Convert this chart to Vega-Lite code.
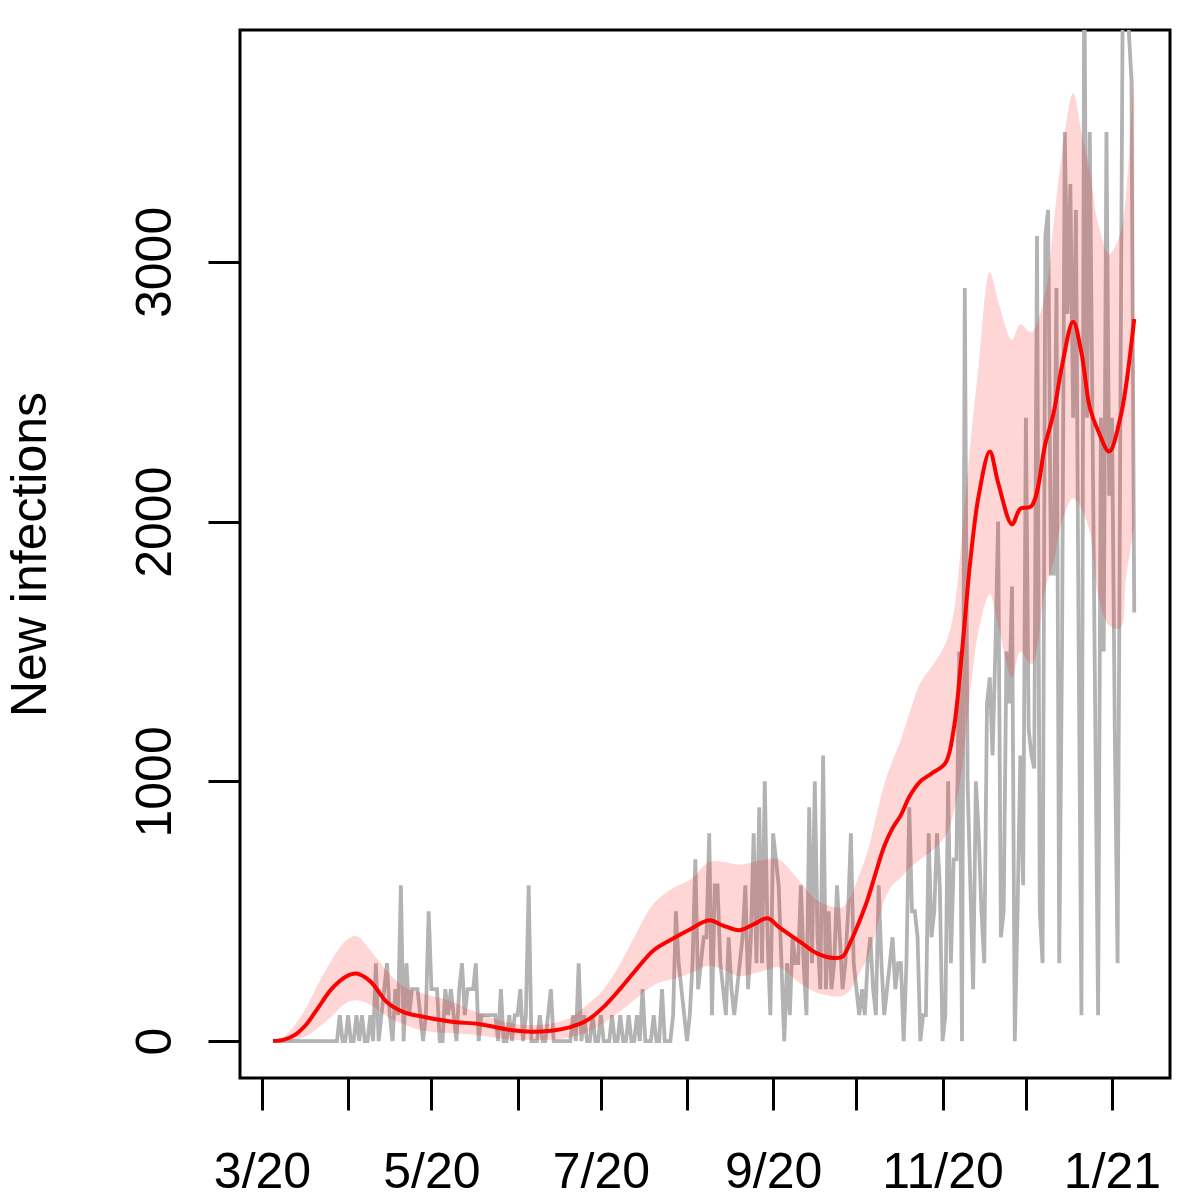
{
  "$schema": "https://vega.github.io/schema/vega-lite/v6.json",
  "width": 930,
  "height": 1048,
  "autosize": {"type": "none"},
  "padding": {"left": 240, "top": 30, "right": 30, "bottom": 122},
  "background": "white",
  "config": {
    "view": {"stroke": "black", "strokeWidth": 3},
    "font": "Liberation Sans"
  },
  "datasets": {
    "daily": [
      {"date":"2020-03-05","cases":0},{"date":"2020-03-06","cases":0},{"date":"2020-03-07","cases":0},{"date":"2020-03-08","cases":0},{"date":"2020-03-09","cases":0},{"date":"2020-03-10","cases":0},{"date":"2020-03-11","cases":0},{"date":"2020-03-12","cases":0},{"date":"2020-03-13","cases":0},{"date":"2020-03-14","cases":0},{"date":"2020-03-15","cases":0},{"date":"2020-03-16","cases":0},{"date":"2020-03-17","cases":0},{"date":"2020-03-18","cases":0},{"date":"2020-03-19","cases":0},{"date":"2020-03-20","cases":0},{"date":"2020-03-21","cases":0},{"date":"2020-03-22","cases":0},{"date":"2020-03-23","cases":0},{"date":"2020-03-24","cases":0},{"date":"2020-03-25","cases":0},{"date":"2020-03-26","cases":0},{"date":"2020-03-27","cases":0},{"date":"2020-03-28","cases":0},{"date":"2020-03-29","cases":100},{"date":"2020-03-30","cases":0},{"date":"2020-03-31","cases":0},
      {"date":"2020-04-01","cases":100},{"date":"2020-04-02","cases":0},{"date":"2020-04-03","cases":0},{"date":"2020-04-04","cases":100},{"date":"2020-04-05","cases":0},{"date":"2020-04-06","cases":100},{"date":"2020-04-07","cases":0},{"date":"2020-04-08","cases":0},{"date":"2020-04-09","cases":100},{"date":"2020-04-10","cases":0},{"date":"2020-04-11","cases":300},{"date":"2020-04-12","cases":0},{"date":"2020-04-13","cases":100},{"date":"2020-04-14","cases":200},{"date":"2020-04-15","cases":300},{"date":"2020-04-16","cases":100},{"date":"2020-04-17","cases":0},{"date":"2020-04-18","cases":200},{"date":"2020-04-19","cases":100},{"date":"2020-04-20","cases":600},{"date":"2020-04-21","cases":0},{"date":"2020-04-22","cases":300},{"date":"2020-04-23","cases":100},{"date":"2020-04-24","cases":200},{"date":"2020-04-25","cases":200},{"date":"2020-04-26","cases":200},{"date":"2020-04-27","cases":100},{"date":"2020-04-28","cases":0},{"date":"2020-04-29","cases":100},{"date":"2020-04-30","cases":500},
      {"date":"2020-05-01","cases":200},{"date":"2020-05-02","cases":200},{"date":"2020-05-03","cases":200},{"date":"2020-05-04","cases":0},{"date":"2020-05-05","cases":0},{"date":"2020-05-06","cases":200},{"date":"2020-05-07","cases":100},{"date":"2020-05-08","cases":200},{"date":"2020-05-09","cases":100},{"date":"2020-05-10","cases":0},{"date":"2020-05-11","cases":200},{"date":"2020-05-12","cases":300},{"date":"2020-05-13","cases":100},{"date":"2020-05-14","cases":200},{"date":"2020-05-15","cases":200},{"date":"2020-05-16","cases":200},{"date":"2020-05-17","cases":300},{"date":"2020-05-18","cases":0},{"date":"2020-05-19","cases":100},{"date":"2020-05-20","cases":100},{"date":"2020-05-21","cases":100},{"date":"2020-05-22","cases":100},{"date":"2020-05-23","cases":100},{"date":"2020-05-24","cases":100},{"date":"2020-05-25","cases":0},{"date":"2020-05-26","cases":200},{"date":"2020-05-27","cases":0},{"date":"2020-05-28","cases":0},{"date":"2020-05-29","cases":100},{"date":"2020-05-30","cases":0},{"date":"2020-05-31","cases":100},
      {"date":"2020-06-01","cases":100},{"date":"2020-06-02","cases":200},{"date":"2020-06-03","cases":0},{"date":"2020-06-04","cases":100},{"date":"2020-06-05","cases":600},{"date":"2020-06-06","cases":0},{"date":"2020-06-07","cases":0},{"date":"2020-06-08","cases":0},{"date":"2020-06-09","cases":100},{"date":"2020-06-10","cases":0},{"date":"2020-06-11","cases":0},{"date":"2020-06-12","cases":100},{"date":"2020-06-13","cases":200},{"date":"2020-06-14","cases":0},{"date":"2020-06-15","cases":0},{"date":"2020-06-16","cases":0},{"date":"2020-06-17","cases":0},{"date":"2020-06-18","cases":0},{"date":"2020-06-19","cases":0},{"date":"2020-06-20","cases":0},{"date":"2020-06-21","cases":100},{"date":"2020-06-22","cases":0},{"date":"2020-06-23","cases":300},{"date":"2020-06-24","cases":0},{"date":"2020-06-25","cases":100},{"date":"2020-06-26","cases":0},{"date":"2020-06-27","cases":0},{"date":"2020-06-28","cases":100},{"date":"2020-06-29","cases":0},{"date":"2020-06-30","cases":0},
      {"date":"2020-07-01","cases":100},{"date":"2020-07-02","cases":0},{"date":"2020-07-03","cases":0},{"date":"2020-07-04","cases":0},{"date":"2020-07-05","cases":100},{"date":"2020-07-06","cases":0},{"date":"2020-07-07","cases":0},{"date":"2020-07-08","cases":100},{"date":"2020-07-09","cases":0},{"date":"2020-07-10","cases":0},{"date":"2020-07-11","cases":100},{"date":"2020-07-12","cases":0},{"date":"2020-07-13","cases":0},{"date":"2020-07-14","cases":100},{"date":"2020-07-15","cases":0},{"date":"2020-07-16","cases":200},{"date":"2020-07-17","cases":0},{"date":"2020-07-18","cases":0},{"date":"2020-07-19","cases":0},{"date":"2020-07-20","cases":100},{"date":"2020-07-21","cases":0},{"date":"2020-07-22","cases":0},{"date":"2020-07-23","cases":200},{"date":"2020-07-24","cases":0},{"date":"2020-07-25","cases":0},{"date":"2020-07-26","cases":0},{"date":"2020-07-27","cases":100},{"date":"2020-07-28","cases":500},{"date":"2020-07-29","cases":300},{"date":"2020-07-30","cases":200},{"date":"2020-07-31","cases":100},
      {"date":"2020-08-01","cases":0},{"date":"2020-08-02","cases":100},{"date":"2020-08-03","cases":300},{"date":"2020-08-04","cases":700},{"date":"2020-08-05","cases":200},{"date":"2020-08-06","cases":300},{"date":"2020-08-07","cases":400},{"date":"2020-08-08","cases":400},{"date":"2020-08-09","cases":800},{"date":"2020-08-10","cases":100},{"date":"2020-08-11","cases":600},{"date":"2020-08-12","cases":600},{"date":"2020-08-13","cases":300},{"date":"2020-08-14","cases":200},{"date":"2020-08-15","cases":100},{"date":"2020-08-16","cases":400},{"date":"2020-08-17","cases":200},{"date":"2020-08-18","cases":100},{"date":"2020-08-19","cases":200},{"date":"2020-08-20","cases":300},{"date":"2020-08-21","cases":400},{"date":"2020-08-22","cases":600},{"date":"2020-08-23","cases":200},{"date":"2020-08-24","cases":400},{"date":"2020-08-25","cases":800},{"date":"2020-08-26","cases":300},{"date":"2020-08-27","cases":900},{"date":"2020-08-28","cases":300},{"date":"2020-08-29","cases":1000},{"date":"2020-08-30","cases":400},{"date":"2020-08-31","cases":100},
      {"date":"2020-09-01","cases":800},{"date":"2020-09-02","cases":700},{"date":"2020-09-03","cases":600},{"date":"2020-09-04","cases":300},{"date":"2020-09-05","cases":0},{"date":"2020-09-06","cases":300},{"date":"2020-09-07","cases":100},{"date":"2020-09-08","cases":400},{"date":"2020-09-09","cases":300},{"date":"2020-09-10","cases":300},{"date":"2020-09-11","cases":600},{"date":"2020-09-12","cases":300},{"date":"2020-09-13","cases":100},{"date":"2020-09-14","cases":900},{"date":"2020-09-15","cases":300},{"date":"2020-09-16","cases":1000},{"date":"2020-09-17","cases":400},{"date":"2020-09-18","cases":200},{"date":"2020-09-19","cases":1100},{"date":"2020-09-20","cases":200},{"date":"2020-09-21","cases":500},{"date":"2020-09-22","cases":200},{"date":"2020-09-23","cases":300},{"date":"2020-09-24","cases":600},{"date":"2020-09-25","cases":400},{"date":"2020-09-26","cases":200},{"date":"2020-09-27","cases":300},{"date":"2020-09-28","cases":500},{"date":"2020-09-29","cases":800},{"date":"2020-09-30","cases":300},
      {"date":"2020-10-01","cases":200},{"date":"2020-10-02","cases":100},{"date":"2020-10-03","cases":200},{"date":"2020-10-04","cases":100},{"date":"2020-10-05","cases":300},{"date":"2020-10-06","cases":400},{"date":"2020-10-07","cases":200},{"date":"2020-10-08","cases":100},{"date":"2020-10-09","cases":600},{"date":"2020-10-10","cases":300},{"date":"2020-10-11","cases":100},{"date":"2020-10-12","cases":200},{"date":"2020-10-13","cases":300},{"date":"2020-10-14","cases":400},{"date":"2020-10-15","cases":200},{"date":"2020-10-16","cases":300},{"date":"2020-10-17","cases":300},{"date":"2020-10-18","cases":0},{"date":"2020-10-19","cases":300},{"date":"2020-10-20","cases":900},{"date":"2020-10-21","cases":500},{"date":"2020-10-22","cases":500},{"date":"2020-10-23","cases":400},{"date":"2020-10-24","cases":0},{"date":"2020-10-25","cases":100},{"date":"2020-10-26","cases":100},{"date":"2020-10-27","cases":800},{"date":"2020-10-28","cases":400},{"date":"2020-10-29","cases":500},{"date":"2020-10-30","cases":800},{"date":"2020-10-31","cases":600},
      {"date":"2020-11-01","cases":0},{"date":"2020-11-02","cases":100},{"date":"2020-11-03","cases":1000},{"date":"2020-11-04","cases":300},{"date":"2020-11-05","cases":700},{"date":"2020-11-06","cases":700},{"date":"2020-11-07","cases":1500},{"date":"2020-11-08","cases":0},{"date":"2020-11-09","cases":2900},{"date":"2020-11-10","cases":1000},{"date":"2020-11-11","cases":600},{"date":"2020-11-12","cases":200},{"date":"2020-11-13","cases":1000},{"date":"2020-11-14","cases":800},{"date":"2020-11-15","cases":500},{"date":"2020-11-16","cases":300},{"date":"2020-11-17","cases":1300},{"date":"2020-11-18","cases":1400},{"date":"2020-11-19","cases":1100},{"date":"2020-11-20","cases":1500},{"date":"2020-11-21","cases":2000},{"date":"2020-11-22","cases":400},{"date":"2020-11-23","cases":500},{"date":"2020-11-24","cases":1500},{"date":"2020-11-25","cases":1300},{"date":"2020-11-26","cases":1750},{"date":"2020-11-27","cases":0},{"date":"2020-11-28","cases":500},{"date":"2020-11-29","cases":1100},{"date":"2020-11-30","cases":600},
      {"date":"2020-12-01","cases":2400},{"date":"2020-12-02","cases":1200},{"date":"2020-12-03","cases":1100},{"date":"2020-12-04","cases":1050},{"date":"2020-12-05","cases":3100},{"date":"2020-12-06","cases":500},{"date":"2020-12-07","cases":300},{"date":"2020-12-08","cases":3100},{"date":"2020-12-09","cases":3200},{"date":"2020-12-10","cases":1800},{"date":"2020-12-11","cases":1800},{"date":"2020-12-12","cases":2900},{"date":"2020-12-13","cases":300},{"date":"2020-12-14","cases":1500},{"date":"2020-12-15","cases":3500},{"date":"2020-12-16","cases":2800},{"date":"2020-12-17","cases":3300},{"date":"2020-12-18","cases":2400},{"date":"2020-12-19","cases":3200},{"date":"2020-12-20","cases":1500},{"date":"2020-12-21","cases":100},{"date":"2020-12-22","cases":4200},{"date":"2020-12-23","cases":2400},{"date":"2020-12-24","cases":3500},{"date":"2020-12-25","cases":2350},{"date":"2020-12-26","cases":1200},{"date":"2020-12-27","cases":100},{"date":"2020-12-28","cases":2400},{"date":"2020-12-29","cases":1500},{"date":"2020-12-30","cases":3500},{"date":"2020-12-31","cases":2100},
      {"date":"2021-01-01","cases":2400},{"date":"2021-01-02","cases":1200},{"date":"2021-01-03","cases":300},{"date":"2021-01-04","cases":2400},{"date":"2021-01-05","cases":4300},{"date":"2021-01-06","cases":4000},{"date":"2021-01-07","cases":3900},{"date":"2021-01-08","cases":3700},{"date":"2021-01-09","cases":1650}
    ],
    "fit": [
      {"date":"2020-03-05","fit":0,"lo":0,"hi":0},
      {"date":"2020-03-09","fit":6,"lo":0,"hi":18},
      {"date":"2020-03-13","fit":25,"lo":5,"hi":65},
      {"date":"2020-03-17","fit":65,"lo":20,"hi":130},
      {"date":"2020-03-21","fit":125,"lo":50,"hi":215},
      {"date":"2020-03-26","fit":200,"lo":94,"hi":310},
      {"date":"2020-03-31","fit":247,"lo":145,"hi":385},
      {"date":"2020-04-04","fit":260,"lo":157,"hi":405},
      {"date":"2020-04-09","fit":230,"lo":140,"hi":350},
      {"date":"2020-04-15","fit":150,"lo":95,"hi":270},
      {"date":"2020-04-21","fit":112,"lo":65,"hi":210},
      {"date":"2020-04-28","fit":94,"lo":40,"hi":183},
      {"date":"2020-05-09","fit":74,"lo":30,"hi":150},
      {"date":"2020-05-18","fit":66,"lo":23,"hi":107},
      {"date":"2020-05-30","fit":42,"lo":5,"hi":68},
      {"date":"2020-06-06","fit":36,"lo":4,"hi":62},
      {"date":"2020-06-13","fit":40,"lo":5,"hi":68},
      {"date":"2020-06-20","fit":54,"lo":15,"hi":90},
      {"date":"2020-06-26","fit":80,"lo":35,"hi":140},
      {"date":"2020-07-02","fit":132,"lo":70,"hi":200},
      {"date":"2020-07-08","fit":202,"lo":115,"hi":300},
      {"date":"2020-07-13","fit":266,"lo":157,"hi":400},
      {"date":"2020-07-20","fit":350,"lo":215,"hi":530},
      {"date":"2020-07-27","fit":395,"lo":240,"hi":590},
      {"date":"2020-08-02","fit":430,"lo":260,"hi":620},
      {"date":"2020-08-09","fit":465,"lo":290,"hi":690},
      {"date":"2020-08-14","fit":445,"lo":275,"hi":690},
      {"date":"2020-08-20","fit":427,"lo":250,"hi":680},
      {"date":"2020-08-25","fit":450,"lo":260,"hi":690},
      {"date":"2020-08-30","fit":473,"lo":275,"hi":700},
      {"date":"2020-09-03","fit":440,"lo":285,"hi":700},
      {"date":"2020-09-11","fit":380,"lo":220,"hi":610},
      {"date":"2020-09-17","fit":337,"lo":185,"hi":540},
      {"date":"2020-09-23","fit":320,"lo":172,"hi":516},
      {"date":"2020-09-26","fit":325,"lo":175,"hi":515},
      {"date":"2020-09-29","fit":385,"lo":200,"hi":560},
      {"date":"2020-10-02","fit":460,"lo":260,"hi":640},
      {"date":"2020-10-05","fit":545,"lo":320,"hi":730},
      {"date":"2020-10-08","fit":650,"lo":420,"hi":860},
      {"date":"2020-10-11","fit":750,"lo":540,"hi":990},
      {"date":"2020-10-14","fit":820,"lo":600,"hi":1080},
      {"date":"2020-10-17","fit":870,"lo":630,"hi":1160},
      {"date":"2020-10-20","fit":940,"lo":665,"hi":1260},
      {"date":"2020-10-24","fit":1000,"lo":700,"hi":1380},
      {"date":"2020-10-28","fit":1030,"lo":730,"hi":1440},
      {"date":"2020-11-02","fit":1070,"lo":790,"hi":1530},
      {"date":"2020-11-05","fit":1200,"lo":880,"hi":1650},
      {"date":"2020-11-08","fit":1500,"lo":1050,"hi":1950},
      {"date":"2020-11-11","fit":1850,"lo":1350,"hi":2300},
      {"date":"2020-11-14","fit":2100,"lo":1580,"hi":2600},
      {"date":"2020-11-18","fit":2270,"lo":1720,"hi":2960},
      {"date":"2020-11-21","fit":2150,"lo":1600,"hi":2850},
      {"date":"2020-11-26","fit":1990,"lo":1400,"hi":2700},
      {"date":"2020-11-29","fit":2050,"lo":1500,"hi":2760},
      {"date":"2020-12-03","fit":2060,"lo":1450,"hi":2730},
      {"date":"2020-12-08","fit":2300,"lo":1740,"hi":2880},
      {"date":"2020-12-11","fit":2420,"lo":1850,"hi":3150},
      {"date":"2020-12-14","fit":2600,"lo":2000,"hi":3420},
      {"date":"2020-12-18","fit":2770,"lo":2090,"hi":3650},
      {"date":"2020-12-21","fit":2650,"lo":2050,"hi":3500},
      {"date":"2020-12-24","fit":2440,"lo":1960,"hi":3350},
      {"date":"2020-12-27","fit":2350,"lo":1720,"hi":3150},
      {"date":"2020-12-31","fit":2270,"lo":1600,"hi":3030},
      {"date":"2021-01-04","fit":2400,"lo":1590,"hi":3110},
      {"date":"2021-01-06","fit":2520,"lo":1780,"hi":3250},
      {"date":"2021-01-09","fit":2780,"lo":1980,"hi":3750}
    ]
  },
  "encoding": {
    "x": {
      "field": "date",
      "type": "temporal",
      "scale": {
        "type": "utc",
        "domain": [
          {"year": 2020, "month": 2, "date": 22, "hours": 2, "utc": true},
          {"year": 2021, "month": 1, "date": 21, "hours": 21, "utc": true}
        ]
      },
      "axis": {
        "title": null,
        "values": [
          {"year": 2020, "month": 3, "date": 1, "utc": true},
          {"year": 2020, "month": 4, "date": 1, "utc": true},
          {"year": 2020, "month": 5, "date": 1, "utc": true},
          {"year": 2020, "month": 6, "date": 1, "utc": true},
          {"year": 2020, "month": 7, "date": 1, "utc": true},
          {"year": 2020, "month": 8, "date": 1, "utc": true},
          {"year": 2020, "month": 9, "date": 1, "utc": true},
          {"year": 2020, "month": 10, "date": 1, "utc": true},
          {"year": 2020, "month": 11, "date": 1, "utc": true},
          {"year": 2020, "month": 12, "date": 1, "utc": true},
          {"year": 2021, "month": 1, "date": 1, "utc": true}
        ],
        "labelExpr": "utcmonth(datum.value) % 2 == 0 ? utcFormat(datum.value, '%-m/%y') : ''",
        "domain": false,
        "grid": false,
        "tickSize": 32,
        "tickWidth": 3,
        "tickColor": "black",
        "labelFont": "Liberation Sans",
        "labelFontSize": 50,
        "labelColor": "black",
        "labelAlign": "center",
        "labelBaseline": "alphabetic",
        "labelPadding": 77,
        "labelFlush": false,
        "labelOverlap": false
      }
    }
  },
  "layer": [
    {
      "data": {"name": "daily"},
      "mark": {"type": "line", "color": "#b3b3b3", "strokeWidth": 3.8, "clip": true},
      "encoding": {
        "y": {
          "field": "cases",
          "type": "quantitative",
          "scale": {"domain": [-142, 3893], "nice": false, "zero": false},
          "axis": {
            "values": [0, 1000, 2000, 3000],
            "format": "d",
            "domain": false,
            "grid": false,
            "tickSize": 32,
            "tickWidth": 3,
            "tickColor": "black",
            "labelFont": "Liberation Sans",
            "labelFontSize": 50,
            "labelColor": "black",
            "labelAngle": -90,
            "labelAlign": "center",
            "labelBaseline": "alphabetic",
            "labelPadding": 38,
            "labelFlush": false,
            "labelOverlap": false,
            "title": "New infections",
            "titleFont": "Liberation Sans",
            "titleFontSize": 50,
            "titleFontWeight": "normal",
            "titleColor": "black",
            "titleAngle": -90,
            "titleAlign": "center",
            "titleBaseline": "alphabetic",
            "titleX": -195,
            "titleY": 524
          }
        }
      }
    },
    {
      "data": {"name": "fit"},
      "mark": {"type": "area", "color": "#ff0000", "fillOpacity": 0.16, "interpolate": "catmull-rom"},
      "encoding": {
        "y": {"field": "lo", "type": "quantitative", "axis": null},
        "y2": {"field": "hi"}
      }
    },
    {
      "data": {"name": "fit"},
      "mark": {"type": "line", "color": "#ff0000", "strokeWidth": 4, "interpolate": "catmull-rom"},
      "encoding": {
        "y": {"field": "fit", "type": "quantitative", "axis": null}
      }
    }
  ],
  "resolve": {"axis": {"y": "independent"}}
}
